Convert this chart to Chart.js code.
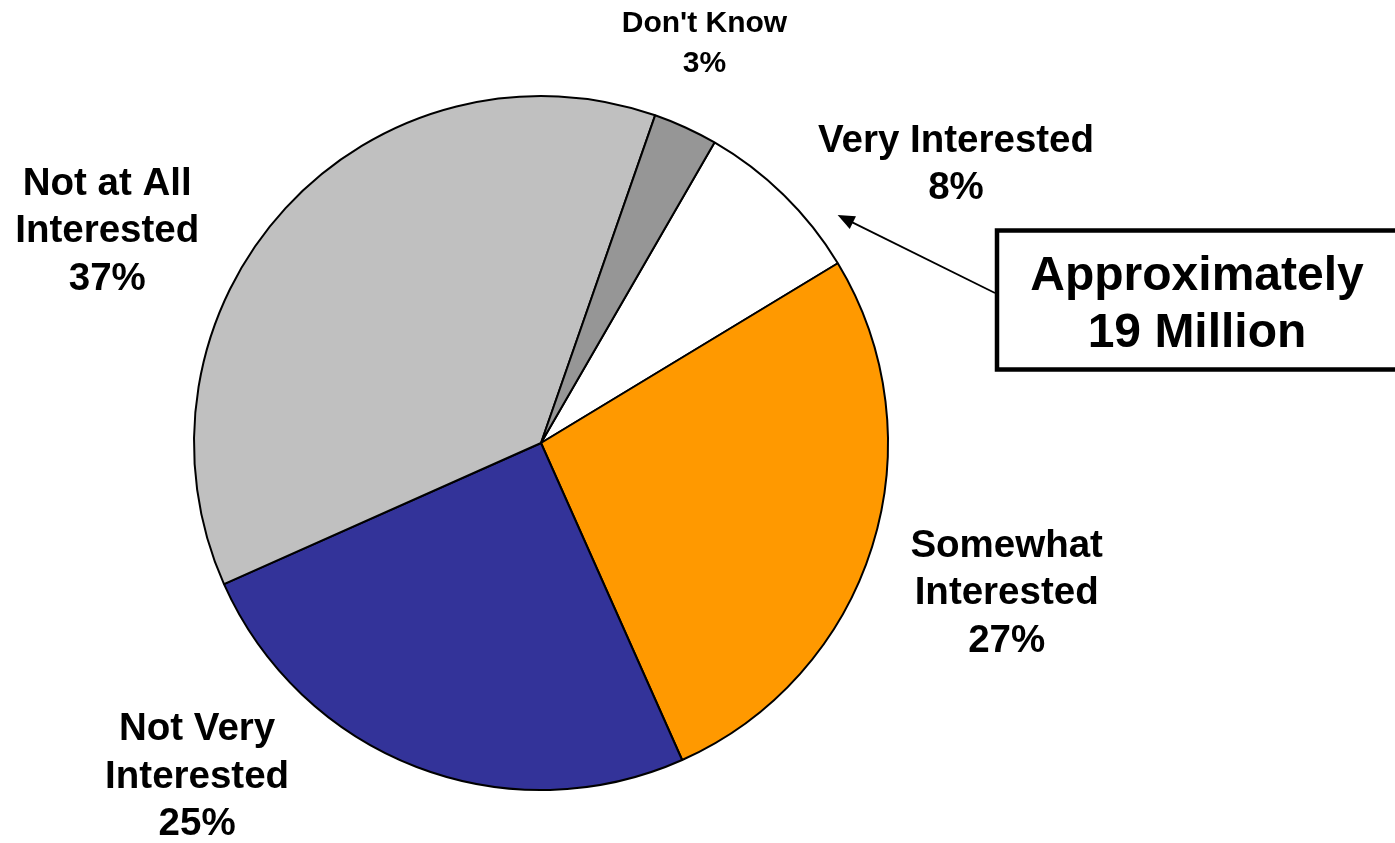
<!DOCTYPE html>
<html>
<head>
<meta charset="utf-8">
<title>Interest</title>
<script src="https://cdn.jsdelivr.net/npm/chart.js@4/dist/chart.umd.min.js"></script>
<style>
  html, body { margin: 0; padding: 0; background: #fff; }
  canvas { display: block; }
</style>
</head>
<body>
<canvas id="graficoPizza" width="1395" height="843"></canvas>
<script>
// dados da pesquisa
var categorias = [['Very Interested'], ['Somewhat', 'Interested'], ['Not Very', 'Interested'], ['Not at All', 'Interested'], ["Don't Know"]]
var valores = [8, 27, 25, 37, 3]
var cores = ['#FFFFFF', '#FF9900', '#333399', '#C0C0C0', '#969696']
var textoCaixa = ['Approximately', '19 Million']

var fonte = '"Liberation Sans", Arial, sans-serif'

// posicao de cada rotulo em relacao ao centro, em raios
var posRotulos = [[1.196, -0.802], [1.342, 0.434], [-0.991, 0.963], [-1.250, -0.609], [0.471, -1.152]]

var rotulosPlugin = {
    id: 'rotulos',
    afterDatasetsDraw: function(chart){
        var ctx = chart.ctx
        var arcos = chart.getDatasetMeta(0).data
        ctx.save()
        ctx.fillStyle = '#000'
        ctx.textAlign = 'center'
        ctx.textBaseline = 'middle'
        arcos.forEach(function(arco, i){
            var r = arco.outerRadius
            var cx = arco.x + posRotulos[i][0] * r
            var cy = arco.y + posRotulos[i][1] * r
            var linhas = categorias[i].concat([valores[i] + '%'])
            var pequeno = valores[i] < 5
            var tam = pequeno ? 30 : 38.5
            var alt = pequeno ? 40 : 47.5
            ctx.font = 'bold ' + tam + 'px ' + fonte
            linhas.forEach(function(l, j){
                ctx.fillText(l, cx, cy + (j - (linhas.length - 1) / 2) * alt)
            })
        })

        // caixa com a seta apontando para "Very Interested"
        var a = arcos[0]
        var ang = a.startAngle + 0.78 * (a.endAngle - a.startAngle)
        var px = a.x + Math.cos(ang) * a.outerRadius * 1.078
        var py = a.y + Math.sin(ang) * a.outerRadius * 1.078

        var bx = 997, by = 230.5, bw = 430, bh = 139
        ctx.lineWidth = 4.5
        ctx.strokeStyle = '#000'
        ctx.fillStyle = '#fff'
        ctx.fillRect(bx, by, bw, bh)
        ctx.strokeRect(bx, by, bw, bh)

        var sx = bx - 2, sy = 293
        var dx = px - sx, dy = py - sy
        var len = Math.sqrt(dx * dx + dy * dy)
        var ux = dx / len, uy = dy / len
        var cab = 17, larg = 7
        ctx.lineWidth = 1.8
        ctx.beginPath()
        ctx.moveTo(sx, sy)
        ctx.lineTo(px - ux * cab * 0.8, py - uy * cab * 0.8)
        ctx.stroke()
        ctx.fillStyle = '#000'
        ctx.beginPath()
        ctx.moveTo(px, py)
        ctx.lineTo(px - ux * cab - uy * larg, py - uy * cab + ux * larg)
        ctx.lineTo(px - ux * cab + uy * larg, py - uy * cab - ux * larg)
        ctx.closePath()
        ctx.fill()

        ctx.font = 'bold 48px ' + fonte
        ctx.textBaseline = 'alphabetic'
        ctx.fillText(textoCaixa[0], 1197, 290)
        ctx.fillText(textoCaixa[1], 1197, 347)
        ctx.restore()
    }
}

var chart = new Chart(document.getElementById('graficoPizza').getContext('2d'), {
    type: 'pie',
    data: {
        labels: categorias.map(function(c){ return c.join(' ') }),
        datasets: [{
            data: valores,
            backgroundColor: cores,
            borderColor: '#000000',
            borderWidth: 2
        }]
    },
    options: {
        responsive: false,
        animation: false,
        rotation: 30,
        layout: { padding: { left: 193, right: 506, top: 95, bottom: 52 } },
        plugins: {
            legend: { display: false },
            tooltip: { enabled: false }
        }
    },
    plugins: [rotulosPlugin]
})
</script>
</body>
</html>
